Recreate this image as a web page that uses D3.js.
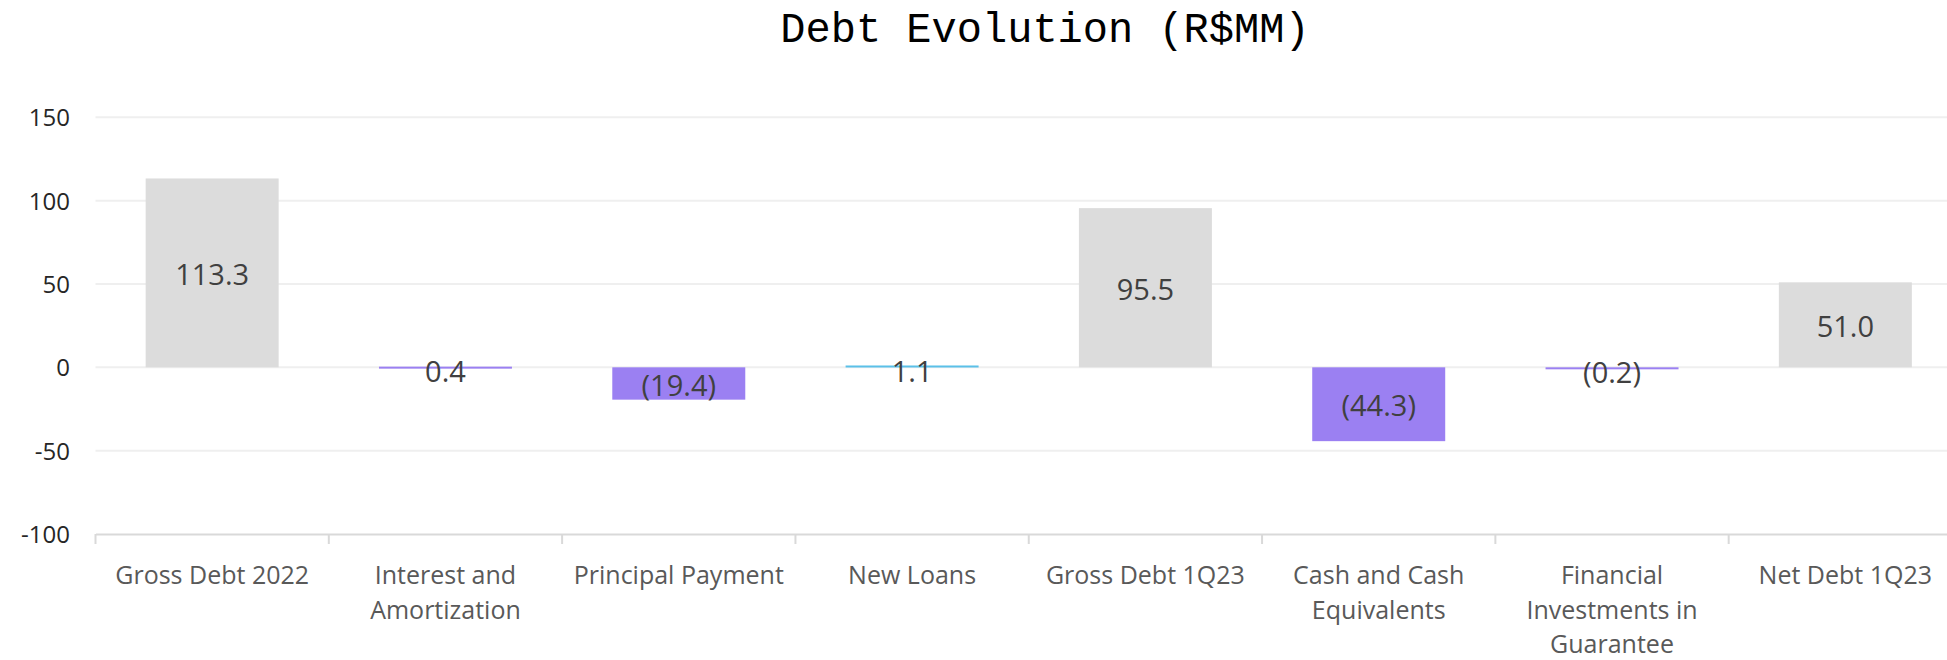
<!DOCTYPE html>
<html>
<head>
<meta charset="utf-8">
<script src="https://cdn.jsdelivr.net/npm/d3@7"></script>
<style>
  html, body { margin: 0; padding: 0; background: #fff; overflow: hidden; }
  svg { display: block; }
</style>
</head>
<body>
<svg id="chart" width="1947" height="660"></svg>
<script>
const categories = [
  ["Gross Debt 2022"],
  ["Interest and", "Amortization"],
  ["Principal Payment"],
  ["New Loans"],
  ["Gross Debt 1Q23"],
  ["Cash and Cash", "Equivalents"],
  ["Financial", "Investments in", "Guarantee"],
  ["Net Debt 1Q23"]
];
const values = [113.3, 0.4, -19.4, 1.1, 95.5, -44.3, -0.2, 51.0];
const barKinds = ["total", "change", "change", "newloan", "total", "change", "change", "total"];
const yTicks = [-100, -50, 0, 50, 100, 150];
const titleText = "Debt Evolution (R$MM)";

const colors = { total: "#dcdcdc", change: "#9b80f2", newloan: "#5bc0e8" };

const svg = d3.select("#chart");
const keys = categories.map((c, i) => i);

const x = d3.scaleBand().domain(keys).range([95.5, 1962]).paddingInner(0.43).paddingOuter(0.215);
const xTick = d3.scaleBand().domain(keys).range([95.5, 1962]);
const y = d3.scaleLinear().domain([-100, 150]).range([534, 117.3]);

// gridlines
svg.append("g").selectAll("line").data(yTicks.filter(t => t !== -100)).join("line")
  .attr("x1", 95.5).attr("x2", 1962)
  .attr("y1", d => y(d)).attr("y2", d => y(d))
  .attr("stroke", "#efefef").attr("stroke-width", 2);

// y axis labels
const yAxis = svg.append("g").attr("transform", "translate(70,0)")
  .call(d3.axisLeft(y).tickValues(yTicks).tickSize(0).tickPadding(0).tickFormat(d => String(d)));
yAxis.select(".domain").remove();
yAxis.selectAll("text").attr("font-family", "'Open Sans', sans-serif").attr("font-size", 24)
  .attr("fill", "#262626").attr("dy", "0.35em");

// x axis
const xAxis = svg.append("g").attr("transform", `translate(0,${y(-100)})`)
  .call(d3.axisBottom(xTick).tickSize(0).tickFormat(""));
xAxis.select(".domain").attr("stroke", "#d9d9d9").attr("stroke-width", 2);
svg.append("g").selectAll("line").data(keys).join("line")
  .attr("x1", d => xTick(d)).attr("x2", d => xTick(d))
  .attr("y1", y(-100)).attr("y2", y(-100) + 10)
  .attr("stroke", "#d9d9d9").attr("stroke-width", 2);

// category labels
const catG = svg.append("g").selectAll("text").data(keys).join("text")
  .attr("x", d => xTick(d) + xTick.bandwidth() / 2)
  .attr("y", 584)
  .attr("text-anchor", "middle")
  .attr("font-family", "'Open Sans', sans-serif").attr("font-size", 25)
  .attr("fill", "#595959");
catG.each(function(d) {
  const t = d3.select(this);
  categories[d].forEach((line, i) => {
    t.append("tspan").attr("x", xTick(d) + xTick.bandwidth() / 2).attr("dy", i === 0 ? 0 : 34.5).text(line);
  });
});

// bars
svg.append("g").selectAll("rect").data(keys).join("rect")
  .attr("x", d => x(d))
  .attr("width", x.bandwidth())
  .attr("y", d => Math.min(y(0), y(values[d])))
  .attr("height", d => Math.max(2, Math.abs(y(values[d]) - y(0))))
  .attr("fill", d => colors[barKinds[d]]);

// value labels
const fmt = v => v < 0 ? `(${d3.format(".1f")(-v)})` : d3.format(".1f")(v);
svg.append("g").selectAll("text").data(keys).join("text")
  .attr("x", d => x(d) + x.bandwidth() / 2)
  .attr("y", d => (y(0) + y(values[d])) / 2 + (Math.abs(values[d]) < 5 ? 5 : 2))
  .attr("dy", "0.35em")
  .attr("text-anchor", "middle")
  .attr("font-family", "'Open Sans', sans-serif").attr("font-size", 29)
  .attr("fill", "#404040")
  .text(d => fmt(values[d]));

// title
svg.append("text")
  .attr("x", 1045).attr("y", 42)
  .attr("text-anchor", "middle")
  .attr("font-family", "'Liberation Mono', 'Courier New', monospace")
  .attr("font-size", 42)
  .attr("fill", "#000")
  .text(titleText);
</script>
</body>
</html>
